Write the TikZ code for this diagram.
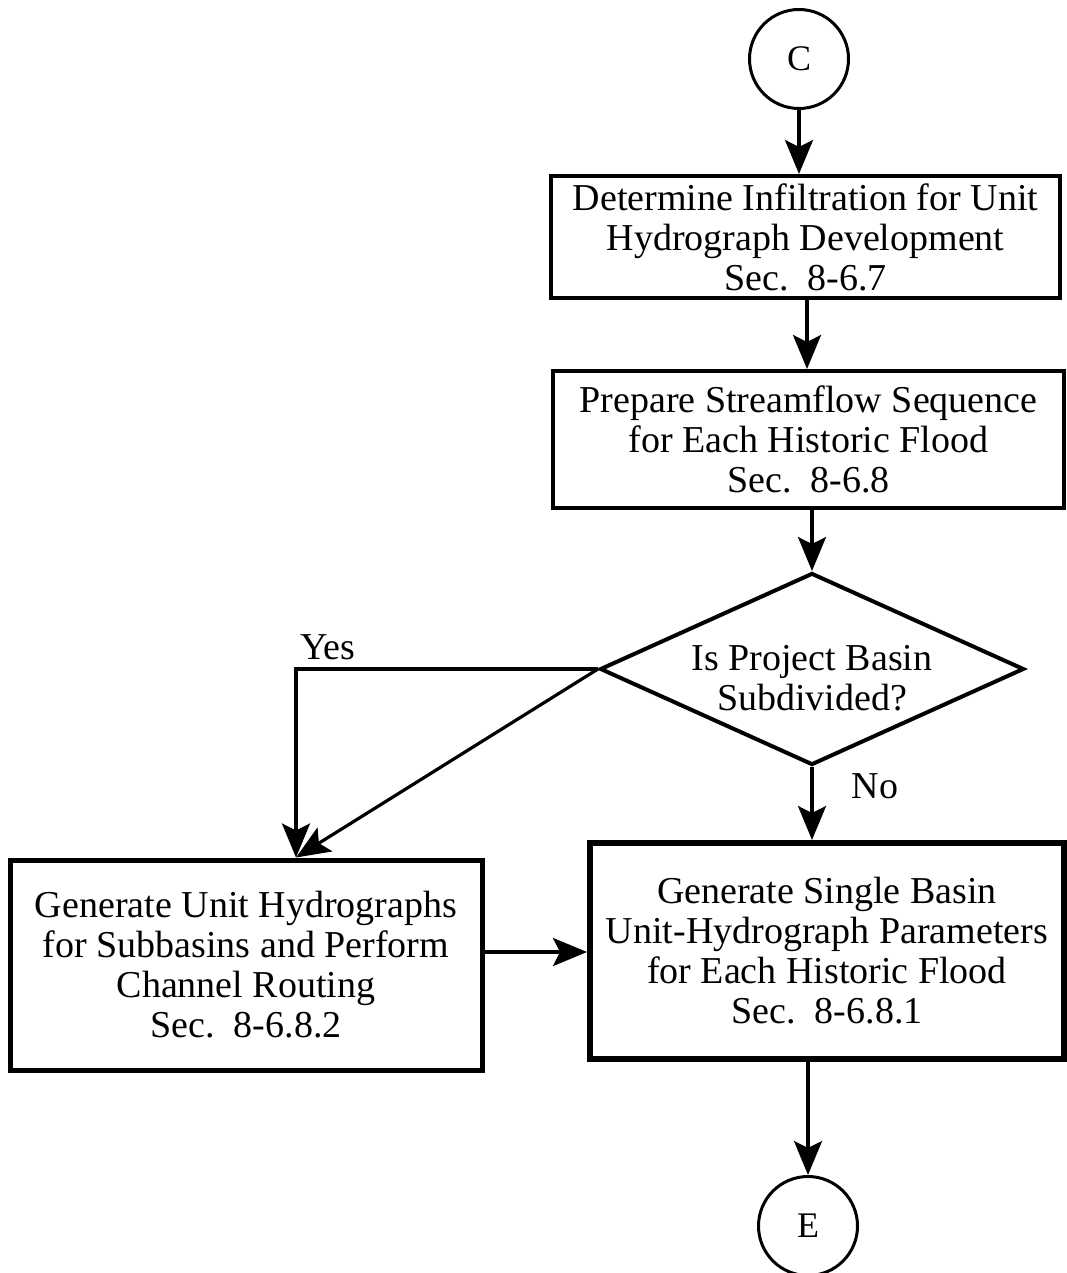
\documentclass[tikz,border=0pt]{standalone}
\usepackage{fontspec}
\setmainfont{Liberation Serif}
\usetikzlibrary{arrows.meta,shapes.geometric}
\begin{document}
\begin{tikzpicture}[x=1pt,y=-1pt,
  txt/.style={font=\fontsize{38}{40}\selectfont, align=center},
  box/.style={txt, draw, line width=4pt, inner sep=0pt},
  conn/.style={circle, draw, line width=3pt, minimum size=99pt, inner sep=0pt, font=\fontsize{36}{40}\selectfont},
  flow/.style={line width=3.2pt, -{Stealth[length=34pt,width=28pt,inset=7pt]}}]
\useasboundingbox (0,0) rectangle (1067,1273);

% connectors and process boxes
\node[conn] (C) at (799,59) {C};
\node[box, minimum width=509pt, minimum height=122pt] (b1) at (805.5,237)
  {Determine Infiltration for Unit\\Hydrograph Development\\Sec.\ \ 8-6.7};
\node[box, minimum width=511pt, minimum height=137pt] (b2) at (808.5,439.5)
  {Prepare Streamflow Sequence\\for Each Historic Flood\\Sec.\ \ 8-6.8};
\node[draw, diamond, shape aspect=2.21, line width=4pt, inner sep=0pt,
      minimum width=424pt, minimum height=192pt] (d) at (812,669) {};
\node[txt] (dtext) at (812,678) {Is Project Basin\\Subdivided?};
\node[box, line width=5pt, minimum width=472pt, minimum height=210pt] (b3) at (246,965)
  {Generate Unit Hydrographs\\for Subbasins and Perform\\Channel Routing\\Sec.\ \ 8-6.8.2};
\node[box, line width=6pt, minimum width=474pt, minimum height=216pt] (b4) at (827,951)
  {Generate Single Basin\\Unit-Hydrograph Parameters\\for Each Historic Flood\\Sec.\ \ 8-6.8.1};
\node[conn] (E) at (808,1226) {E};

% branch labels
\node[txt] (yes) at (328,647) {Yes};
\node[txt] (no) at (875,786) {No};

% helper columns and rows for connector placement
\coordinate (col1) at (807,0);
\coordinate (col3) at (296,0);
\coordinate (row3) at (0,952);

% flow lines
\draw[flow] (C.south) -- (C.south |- b1.north);
\draw[flow] (b1.south -| col1) -- (b2.north -| col1);
\draw[flow] (b2.south -| d.north) -- (d.north);
\draw[flow] (d.west) -| (b3.north -| col3);
\draw[flow] (d.west) -- (b3.north -| col3);
\draw[flow] (d.south) -- (d.south |- b4.north);
\draw[flow] (b3.east |- row3) -- (b4.west |- row3);
\draw[flow] (b4.south -| E.north) -- (E.north);
\end{tikzpicture}
\end{document}
